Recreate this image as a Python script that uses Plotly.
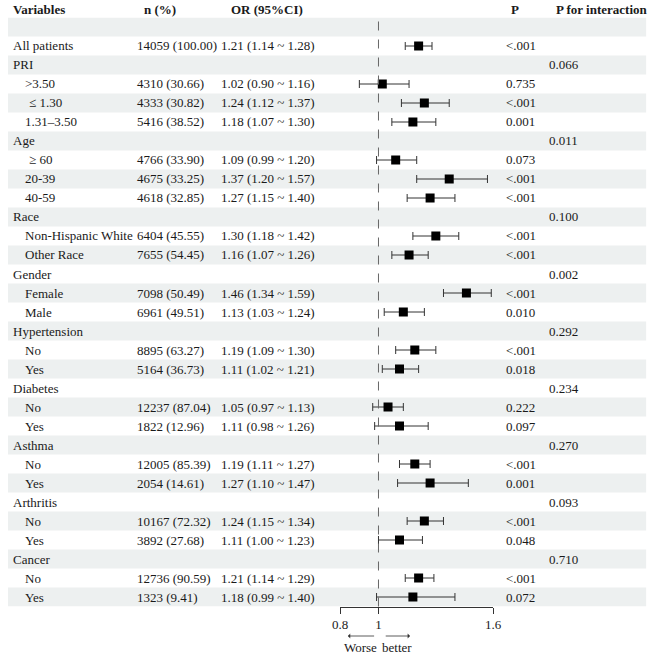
import plotly.graph_objects as go

# ---------------- data ----------------
labels = ["", "All patients", "PRI", ">3.50", "≤ 1.30", "1.31–3.50", "Age", "≥ 60", "20-39", "40-59",
          "Race", "Non-Hispanic White", "Other Race", "Gender", "Female", "Male",
          "Hypertension", "No", "Yes", "Diabetes", "No", "Yes", "Asthma", "No", "Yes",
          "Arthritis", "No", "Yes", "Cancer", "No", "Yes"]
is_sub = [False, False, False, True, True, True, False, True, True, True,
          False, True, True, False, True, True,
          False, True, True, False, True, True, False, True, True,
          False, True, True, False, True, True]
n_pct = ["", "14059 (100.00)", "", "4310 (30.66)", "4333 (30.82)", "5416 (38.52)", "", "4766 (33.90)",
         "4675 (33.25)", "4618 (32.85)", "", "6404 (45.55)", "7655 (54.45)", "", "7098 (50.49)",
         "6961 (49.51)", "", "8895 (63.27)", "5164 (36.73)", "", "12237 (87.04)", "1822 (12.96)",
         "", "12005 (85.39)", "2054 (14.61)", "", "10167 (72.32)", "3892 (27.68)", "",
         "12736 (90.59)", "1323 (9.41)"]
or_val = [None, 1.21, None, 1.02, 1.24, 1.18, None, 1.09, 1.37, 1.27, None, 1.30, 1.16, None, 1.46, 1.13,
          None, 1.19, 1.11, None, 1.05, 1.11, None, 1.19, 1.27, None, 1.24, 1.11, None, 1.21, 1.18]
ci_low = [None, 1.14, None, 0.90, 1.12, 1.07, None, 0.99, 1.20, 1.15, None, 1.18, 1.07, None, 1.34, 1.03,
          None, 1.09, 1.02, None, 0.97, 0.98, None, 1.11, 1.10, None, 1.15, 1.00, None, 1.14, 0.99]
ci_high = [None, 1.28, None, 1.16, 1.37, 1.30, None, 1.20, 1.57, 1.40, None, 1.42, 1.26, None, 1.59, 1.24,
           None, 1.30, 1.21, None, 1.13, 1.26, None, 1.27, 1.47, None, 1.34, 1.23, None, 1.29, 1.40]
p_val = ["", "<.001", "", "0.735", "<.001", "0.001", "", "0.073", "<.001", "<.001", "", "<.001", "<.001",
         "", "<.001", "0.010", "", "<.001", "0.018", "", "0.222", "0.097", "", "<.001", "0.001", "",
         "<.001", "0.048", "", "<.001", "0.072"]
p_inter = ["", "", "0.066", "", "", "", "0.011", "", "", "", "0.100", "", "", "0.002", "", "",
           "0.292", "", "", "0.234", "", "", "0.270", "", "", "0.093", "", "", "0.710", "", ""]
headers = ["Variables", "n (%)", "OR (95%CI)", "P", "P for interaction"]
tick_vals = [0.8, 1, 1.6]
tick_text = ["0.8", "1", "1.6"]

# ---------------- layout helpers ----------------
W, H = 661, 654
nrows = len(labels)
top_px, bot_px = 17.5, 606.5
FONT = "Liberation Serif, Times New Roman, serif"
TXT = dict(family=FONT, size=13, color="#1a1a1a")


def px(x):
    return x / W


def py(y):
    return (H - y) / H


def or_text(i):
    if or_val[i] is None:
        return ""
    return f"{or_val[i]:.2f} ({ci_low[i]:.2f} ~ {ci_high[i]:.2f})"


rows = list(range(nrows))
pts = [i for i in rows if or_val[i] is not None]

fig = go.Figure()
fig.add_trace(go.Scatter(
    x=[or_val[i] for i in pts], y=pts, mode="markers",
    marker=dict(symbol="square", size=9, color="black"),
    error_x=dict(type="data", symmetric=False,
                 array=[ci_high[i] - or_val[i] for i in pts],
                 arrayminus=[or_val[i] - ci_low[i] for i in pts],
                 color="#333333", thickness=1, width=4),
    showlegend=False, hoverinfo="skip"))

shapes = []
for i in rows:
    if i % 2 == 0:
        shapes.append(dict(type="rect", xref="paper", yref="y", x0=0, x1=px(655),
                           y0=i - 0.5, y1=i + 0.5, fillcolor="#edf0f0",
                           line=dict(width=0), layer="below"))
shapes.append(dict(type="line", xref="x", yref="paper", x0=1, x1=1,
                   y0=py(bot_px), y1=py(21), line=dict(color="#666666", width=1, dash="dash")))

ann = []
hx = [3, 138, 227, 514, 560]
for h, x in zip(headers, hx):
    ann.append(dict(text=f"<b>{h}</b>", x=px(x), y=py(9.5), xref="paper", yref="paper",
                    xanchor="left", yanchor="middle", showarrow=False, font=TXT))
for i in rows:
    indent = 3
    if is_sub[i]:
        indent = 19 if labels[i][:1] in ("≤", "≥") else 15
    cols = [(labels[i], indent), (n_pct[i], 130), (or_text(i), 217), (p_val[i], 509), (p_inter[i], 553)]
    for t, x in cols:
        if t:
            ann.append(dict(text=t.replace("<", "&lt;").replace(">", "&gt;"), x=px(x), y=i,
                            xref="paper", yref="y", xanchor="left", yanchor="middle",
                            showarrow=False, font=TXT))

# direction arrows
ann.append(dict(text="", x=0.84, y=py(636), xref="x", yref="paper", ax=0.985, ay=0,
                axref="x", ayref="pixel", showarrow=True, arrowhead=1, arrowsize=1,
                arrowwidth=0.8, arrowcolor="#333"))
ann.append(dict(text="", x=1.165, y=py(636), xref="x", yref="paper", ax=1.03, ay=0,
                axref="x", ayref="pixel", showarrow=True, arrowhead=1, arrowsize=1,
                arrowwidth=0.8, arrowcolor="#333"))
ann.append(dict(text="Worse", x=0.9086, y=py(647), xref="x", yref="paper", xanchor="center",
                yanchor="middle", showarrow=False, font=TXT))
ann.append(dict(text="better", x=1.096, y=py(647), xref="x", yref="paper", xanchor="center",
                yanchor="middle", showarrow=False, font=TXT))

fig.update_layout(
    width=W, height=H, margin=dict(l=0, r=0, t=0, b=0),
    paper_bgcolor="white", plot_bgcolor="rgba(0,0,0,0)",
    shapes=shapes, annotations=ann,
    xaxis=dict(domain=[px(341), px(498)], range=[0.8, 1.6], showline=True,
               linecolor="#333333", linewidth=1, ticks="outside", ticklen=6,
               tickcolor="#333333", tickvals=tick_vals, ticktext=tick_text,
               tickfont=TXT, showgrid=False, zeroline=False, fixedrange=True),
    yaxis=dict(domain=[py(bot_px), py(top_px)], range=[nrows - 0.5, -0.5],
               showticklabels=False, showgrid=False, zeroline=False, showline=False,
               ticks="", fixedrange=True),
)

fig.write_html("out.html", config={"displayModeBar": False},
               post_script="document.body.style.margin='0';document.body.style.overflow='hidden';")
